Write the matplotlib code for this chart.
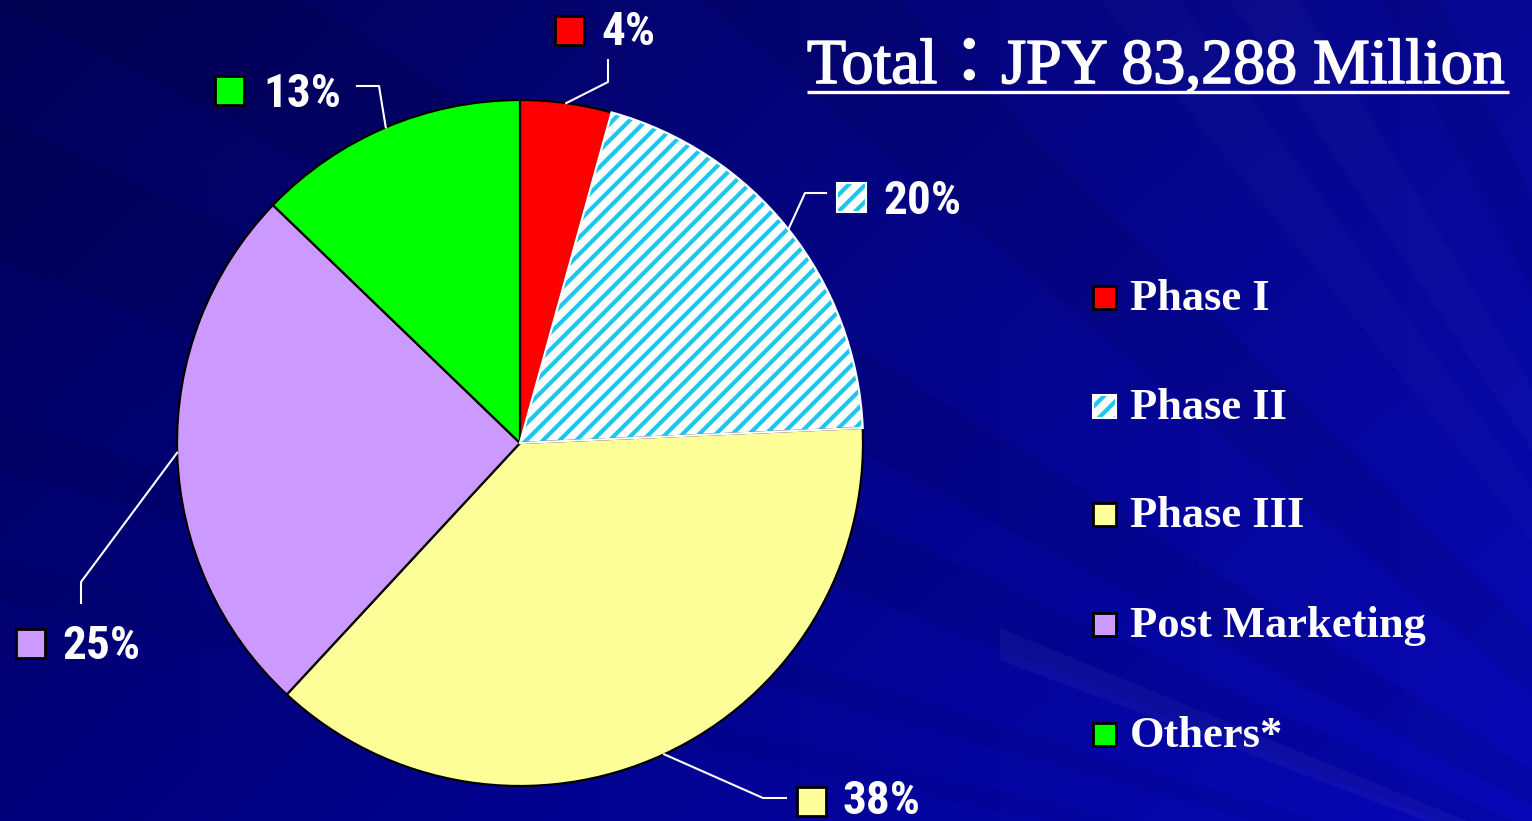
import numpy as np
import matplotlib.pyplot as plt
import matplotlib.patheffects as pe
from matplotlib.patches import Rectangle, Wedge, Polygon

plt.rcParams['hatch.linewidth'] = 3.0

W, H = 1532, 821

# === Data ===
categories = ['Phase I', 'Phase II', 'Phase III', 'Post Marketing', 'Others*']
shares = [4.3, 20.0, 37.6, 25.3, 12.8]
colors = ['#ff0000', '#ffffff', '#ffff99', '#cc99ff', '#00ff00']
title = 'Total：JPY 83,288 Million'

hatch_color = '#1ec6ef'
pct_font = ['Roboto Condensed', 'DejaVu Sans']

# label layout, pixel coords from top-left: marker centre, text left, baseline, leader elbow + end
label_layout = [
    dict(box=(569, 30), tx=601, base=45, path=[(608, 82), (608, 60)]),
    dict(box=(851, 197), tx=883, base=214, path=[(805, 193), (826, 193)]),
    dict(box=(811, 801), tx=843, base=814, path=[(763, 798), (786, 798)]),
    dict(box=(30, 643), tx=62, base=659, path=[(81, 582), (81, 603)]),
    dict(box=(229, 90), tx=263, base=107, path=[(379, 86), (357, 86)]),
]


def Y(y):
    return H - y


fig = plt.figure(figsize=(W / 100, H / 100), dpi=100)
ax = fig.add_axes([0, 0, 1, 1])

# === Background ===
xx, yy = np.meshgrid(np.linspace(0, 1, 400), np.linspace(0, 1, 220))
blue = 0.34 + 0.24 * xx + 0.14 * yy
red = 0.03 * xx
bg = np.dstack([red, red, blue])
ax.imshow(bg, extent=(0, W, 0, H), origin='upper', aspect='auto', zorder=0)

focal = (1900, 1000)
streaks = [
    ((1100, 0), (1180, 0), 'white', 0.02),
    ((1230, 0), (1300, 0), 'white', 0.025),
    ((1380, 0), (1440, 0), 'black', 0.05),
    ((700, 0), (900, 0), 'black', 0.07),
    ((0, 0), (300, 0), 'black', 0.08),
    ((0, 120), (0, 260), 'black', 0.07),
    ((0, 420), (0, 470), 'black', 0.05),
    ((1000, 628), (1000, 660), 'white', 0.04),
    ((0, 560), (0, 600), 'black', 0.04),
]
for p1, p2, c, a in streaks:
    ax.add_patch(Polygon([(focal[0], Y(focal[1])), (p1[0], Y(p1[1])), (p2[0], Y(p2[1]))],
                         closed=True, facecolor=c, edgecolor='none', alpha=a, zorder=0.5))

# === Pie ===
center = (520, Y(443))
radius = 343
wedges, _ = ax.pie(shares, colors=colors, startangle=90, counterclock=False,
                   center=center, radius=radius,
                   wedgeprops=dict(edgecolor='black', linewidth=1.6))
ax.set_aspect('auto')
ax.set_xlim(0, W)
ax.set_ylim(0, H)

# hatched Phase II wedge
w2 = wedges[1]
w2.set_facecolor('white')
w2.set_edgecolor(hatch_color)
w2.set_hatch('//')
w2.set_linewidth(0)
ax.add_patch(Wedge(center, radius, w2.theta1, w2.theta2, facecolor='none',
                   edgecolor='white', linewidth=1.6, zorder=w2.get_zorder() + 0.1))


def marker(cx, cy, size, i):
    x0, y0 = cx - size / 2, Y(cy) - size / 2
    if i == 1:
        ax.add_patch(Rectangle((x0, y0), size, size, facecolor='white', edgecolor=hatch_color,
                               hatch='//', linewidth=0, zorder=3))
        ax.add_patch(Rectangle((x0, y0), size, size, facecolor='none', edgecolor='white',
                               linewidth=1.5, zorder=3.1))
    else:
        ax.add_patch(Rectangle((x0, y0), size, size, facecolor=colors[i], edgecolor='black',
                               linewidth=2, zorder=3))


# === Percentage labels with leader lines ===
for i, (w, lay) in enumerate(zip(wedges, label_layout)):
    mid = np.deg2rad((w.theta1 + w.theta2) / 2)
    ax_x = center[0] + radius * np.cos(mid)
    ax_y = center[1] + radius * np.sin(mid)
    xs = [ax_x] + [p[0] for p in lay['path']]
    ys = [ax_y] + [Y(p[1]) for p in lay['path']]
    ax.plot(xs, ys, color='white', linewidth=1.5, zorder=2.5)
    marker(lay['box'][0], lay['box'][1], 29, i)
    ax.text(lay['tx'], Y(lay['base']), f"{shares[i]:.0f}%", color='white',
            fontsize=34, fontweight='bold', fontstretch='condensed', family=pct_font,
            ha='left', va='baseline', zorder=4)

# === Legend ===
leg_y = [297, 406, 514, 624, 734]
for i, (cat, cy) in enumerate(zip(categories, leg_y)):
    marker(1104, cy, 23, i)
    ax.text(1130, Y(cy + 13), cat, color='white', fontsize=32, fontweight='bold',
            family=['Liberation Serif', 'DejaVu Serif'], ha='left', va='baseline', zorder=4)

# === Title with underline ===
t = ax.text(807, Y(83), title, color='white', fontsize=46,
            family=['Liberation Serif', 'Noto Sans CJK JP'], ha='left', va='baseline', zorder=4,
            path_effects=[pe.withStroke(linewidth=1.2, foreground='white')])
fig.canvas.draw()
bb = t.get_window_extent()
ax.plot([bb.x0, bb.x1 + 4], [Y(92), Y(92)], color='white', linewidth=2.4,
        solid_capstyle='butt', zorder=4)

ax.axis('off')

fig.savefig('out.png', dpi=100)
